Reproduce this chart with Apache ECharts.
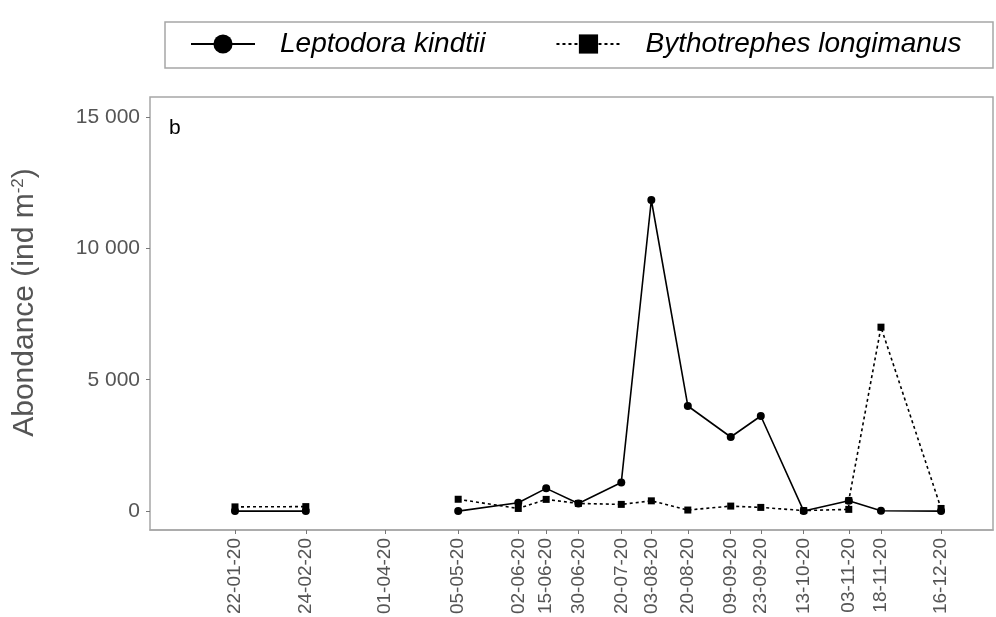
<!DOCTYPE html>
<html>
<head>
<meta charset="utf-8">
<script src="https://cdn.jsdelivr.net/npm/echarts@6/dist/echarts.min.js"></script>
<style>
  html, body { margin: 0; padding: 0; background: #fff; }
  #main { width: 996px; height: 617px; }
</style>
</head>
<body>
<div id="main"></div>
<script>
// sampling dates (x) and their tick labels
var sampleDates = ['2020-01-22', '2020-02-24', '2020-04-01', '2020-05-05', '2020-06-02', '2020-06-15',
	'2020-06-30', '2020-07-20', '2020-08-03', '2020-08-20', '2020-09-09', '2020-09-23',
	'2020-10-13', '2020-11-03', '2020-11-18', '2020-12-16'];
var dateLabels = ['22-01-20', '24-02-20', '01-04-20', '05-05-20', '02-06-20', '15-06-20',
	'30-06-20', '20-07-20', '03-08-20', '20-08-20', '09-09-20', '23-09-20',
	'13-10-20', '03-11-20', '18-11-20', '16-12-20'];

// Leptodora kindtii (no sample on 01-04-20)
var leptoDates = sampleDates;
var leptoValues = [0, 0, null, 0, 315, 865, 290, 1090, 11840, 4000, 2820, 3620, 0, 390, 10, 0];

// Bythotrephes longimanus (two readings on 03-11-20)
var bythoDates = ['2020-01-22', '2020-02-24', '2020-04-01', '2020-05-05', '2020-06-02', '2020-06-15',
	'2020-06-30', '2020-07-20', '2020-08-03', '2020-08-20', '2020-09-09', '2020-09-23',
	'2020-10-13', '2020-11-03', '2020-11-03', '2020-11-18', '2020-12-16'];
var bythoValues = [160, 170, null, 450, 100, 445, 290, 255, 390, 40, 190, 140, 20, 65, 400, 7000, 100];

var yTicks = [0, 5000, 10000, 15000];
var yTickLabels = ['0', '5 000', '10 000', '15 000'];

function toDay(s) {
	return Date.UTC(+s.slice(0, 4), +s.slice(5, 7) - 1, +s.slice(8, 10)) / 864e5;
}
function pairs(dates, values) {
	return dates.map(function (d, i) { return [toDay(d), values[i]]; });
}

var tickDays = sampleDates.map(toDay);
var gray = '#a6a6a6';
var sans = '"Liberation Sans", Arial, sans-serif';

var chart = echarts.init(document.getElementById('main'));

var option = {
	animation: false,
	backgroundColor: '#fff',
	title: {
		text: 'b',
		left: 169,
		top: 118,
		padding: 0,
		textStyle: { fontFamily: sans, fontSize: 21, fontWeight: 'normal', color: '#000' }
	},
	legend: {
		left: 190,
		top: 30,
		padding: 0,
		itemWidth: 64,
		itemHeight: 24,
		itemGap: 70,
		textStyle: { fontFamily: sans, fontSize: 28, fontStyle: 'italic', color: '#000', padding: [0, 0, 0, 20] },
		data: ['Leptodora kindtii', 'Bythotrephes longimanus']
	},
	graphic: [{
		type: 'rect',
		shape: { x: 165, y: 22, width: 828, height: 46 },
		style: { fill: 'none', stroke: gray, lineWidth: 1.5 },
		silent: true
	}],
	grid: {
		left: 150, right: 3, top: 97, bottom: 87,
		containLabel: false,
		outerBoundsMode: 'none',
		show: true, borderColor: gray, borderWidth: 1.5, backgroundColor: '#fff'
	},
	xAxis: {
		type: 'value',
		min: toDay('2019-12-14') - 0.6,
		max: toDay('2021-01-09') + 0.2,
		splitLine: { show: false },
		axisLine: { show: true, onZero: false, lineStyle: { color: gray, width: 1.5 } },
		axisTick: { show: true, length: 4, customValues: tickDays, lineStyle: { color: '#777' } },
		axisLabel: {
			customValues: tickDays,
			rotate: 90,
			margin: 8,
			fontFamily: sans,
			fontSize: 19,
			color: '#555',
			formatter: function (v) {
				var i = tickDays.indexOf(Math.round(v));
				return i < 0 ? '' : dateLabels[i];
			}
		}
	},
	yAxis: {
		type: 'value',
		min: -720,
		max: 15760,
		splitLine: { show: false },
		axisLine: { show: false },
		axisTick: { show: true, length: 4, customValues: yTicks, lineStyle: { color: '#777' } },
		axisLabel: {
			customValues: yTicks,
			margin: 10,
			fontFamily: sans,
			fontSize: 21,
			color: '#555',
			formatter: function (v) {
				var i = yTicks.indexOf(v);
				return i < 0 ? '' : yTickLabels[i];
			}
		},
		name: 'Abondance (ind m{sup|-2})',
		nameLocation: 'middle',
		nameGap: 110,
		nameTextStyle: {
			fontFamily: sans,
			fontSize: 30,
			color: '#555',
			padding: [0, 0, 0, 22],
			rich: {
				sup: { fontFamily: sans, fontSize: 17, color: '#555', verticalAlign: 'top', padding: [0, 0, 10, 0] }
			}
		}
	},
	series: [
		{
			name: 'Bythotrephes longimanus',
			type: 'line',
			z: 2,
			symbol: 'rect',
			symbolSize: 7,
			connectNulls: false,
			itemStyle: { color: '#000' },
			lineStyle: { color: '#000', width: 1.6, type: [3, 3] },
			data: pairs(bythoDates, bythoValues)
		},
		{
			name: 'Leptodora kindtii',
			type: 'line',
			z: 3,
			symbol: 'circle',
			symbolSize: 8,
			connectNulls: false,
			itemStyle: { color: '#000' },
			lineStyle: { color: '#000', width: 1.6 },
			data: pairs(leptoDates, leptoValues)
		}
	]
};

chart.setOption(option);
</script>
</body>
</html>
